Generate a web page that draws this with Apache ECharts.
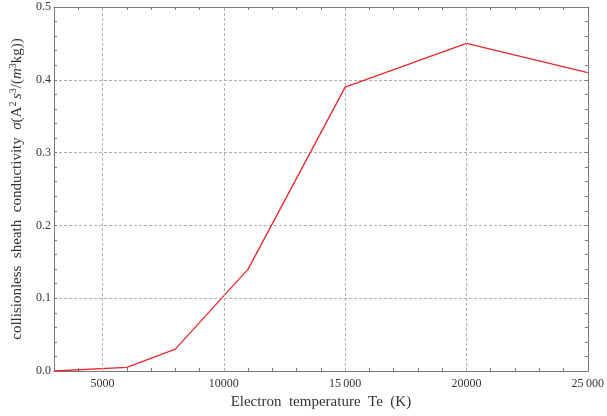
<!DOCTYPE html>
<html><head><meta charset="utf-8">
<script src="https://cdn.jsdelivr.net/npm/echarts@6/dist/echarts.min.js"></script>
<style>html,body{margin:0;padding:0;background:#fff}#c{width:607px;height:416px}</style>
</head><body><div id="c"></div>
<script>
const temperatures = [3000, 6000, 8000, 11000, 15000, 20000, 25000];
const conductivity = [0.0, 0.005, 0.03, 0.14, 0.39, 0.45, 0.41];
const xLabelValues = [5000, 10000, 15000, 20000, 25000];
const xLabelTexts = {5000: '5000', 10000: '10000', 15000: '15\u2009000', 20000: '20000', 25000: '25\u2009000'};
const xGridLines = [5000, 10000, 15000, 20000];

const font = 'Liberation Serif';
const axisCol = '#777';
const textCol = '#333';
const gridCol = '#b0b0b0';
const chart = echarts.init(document.getElementById('c'));
const tickStyle = {show: true, inside: true, length: 3, lineStyle: {color: axisCol, width: 1}};
chart.setOption({
  animation: false,
  grid: {left: 51, right: 14, top: 7, bottom: 45},
  xAxis: [{
    type: 'value', min: 3000, max: 25000, interval: 1000, position: 'bottom',
    axisLine: {show: true, onZero: false, lineStyle: {color: axisCol, width: 1}},
    axisTick: tickStyle,
    splitLine: {show: false},
    axisLabel: {
      color: textCol, fontFamily: font, fontSize: 12, margin: 7,
      formatter: v => (xLabelValues.includes(v) ? xLabelTexts[v] : '')
    },
    name: 'Electron  temperature  Te  (K)', nameLocation: 'middle', nameGap: 24,
    nameTextStyle: {color: textCol, fontFamily: font, fontSize: 15}
  }, {
    type: 'value', min: 3000, max: 25000, interval: 1000, position: 'top',
    axisLine: {show: true, onZero: false, lineStyle: {color: axisCol, width: 1}},
    axisTick: tickStyle, axisLabel: {show: false}, splitLine: {show: false}
  }],
  yAxis: [{
    type: 'value', min: 0, max: 0.5, interval: 0.1, position: 'left',
    axisLine: {show: true, onZero: false, lineStyle: {color: axisCol, width: 1}},
    axisTick: tickStyle,
    minorTick: {show: true, splitNumber: 5, length: 3, lineStyle: {color: axisCol}},
    splitLine: {show: true, lineStyle: {color: gridCol, type: [3, 2], width: 1}},
    axisLabel: {color: textCol, fontFamily: font, fontSize: 12, margin: 3, formatter: v => v.toFixed(1)},
    name: '{n|collisionless  sheath  conductivity  }{i|σ}{n|(A}{sup|2 }{i|s}{sup|3}{n|/(}{i|m}{sup|3}{n|kg))}',
    nameLocation: 'middle', nameGap: 28, nameRotate: 90,
    nameTextStyle: {
      color: textCol, fontFamily: font, fontSize: 15,
      rich: {
        n: {fontFamily: font, fontSize: 15, color: textCol, lineHeight: 18},
        i: {fontFamily: font, fontSize: 15, color: textCol, fontStyle: 'italic', lineHeight: 18},
        sup: {fontFamily: font, fontSize: 10, color: textCol, verticalAlign: 'top', lineHeight: 18}
      }
    }
  }, {
    type: 'value', min: 0, max: 0.5, interval: 0.1, position: 'right',
    axisLine: {show: true, onZero: false, lineStyle: {color: axisCol, width: 1}},
    axisTick: tickStyle,
    minorTick: {show: true, splitNumber: 5, length: 3, lineStyle: {color: axisCol}},
    axisLabel: {show: false}, splitLine: {show: false}
  }],
  series: [{
    type: 'line',
    data: temperatures.map((t, i) => [t, conductivity[i]]),
    symbol: 'none',
    lineStyle: {color: '#e8262c', width: 1.3},
    markLine: {
      silent: true, symbol: 'none', label: {show: false},
      lineStyle: {color: gridCol, type: [3, 2], width: 1},
      data: xGridLines.map(v => ({xAxis: v}))
    }
  }]
});
</script></body></html>
